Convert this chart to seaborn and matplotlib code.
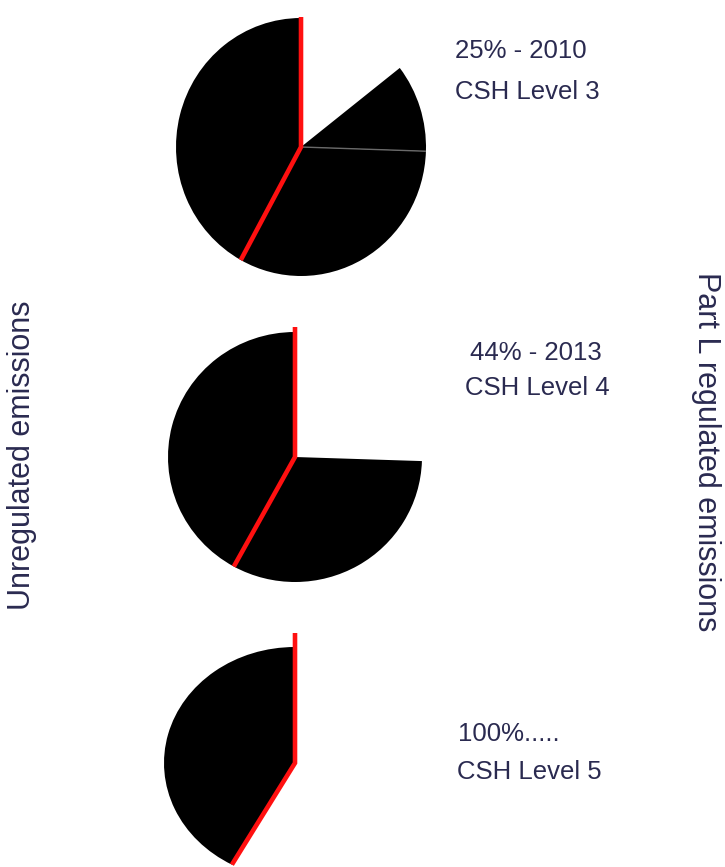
import numpy as np
import matplotlib
matplotlib.use("Agg")
import matplotlib.pyplot as plt
import seaborn as sns

# Share of a dwelling's emissions (percent of the whole pie)
unregulated_share = 42
regulated_share = 58

# Cut in Part L regulated emissions required at each step
cut_pct = [25, 44, 100]
cut_years = ["2010", "2013", None]
csh_levels = ["CSH Level 3", "CSH Level 4", "CSH Level 5"]

side_left = "Unregulated emissions"
side_right = "Part L regulated emissions"

sns.set_theme(style="white")
plt.rcParams["font.family"] = ["Liberation Sans", "DejaVu Sans"]

W, H = 725, 867
fig = plt.figure(figsize=(W / 100, H / 100), dpi=100)
fig.patch.set_facecolor("white")

text_color = "#2a2a50"
red = "#ff1010"

# pie placement in pixels: centre x, centre y, radius x, radius y
pie_boxes = [(301, 147, 125, 129), (295, 457, 127, 125), (295, 763, 131, 116)]
label_pos = [((455, 51), (455, 92)), ((470, 353), (465, 388)), ((458, 734), (457, 772))]

# regulated segments in counter-clockwise order, each tagged with the cut that removes it
cuts_desc = sorted(cut_pct, reverse=True)
bounds = cuts_desc + [0]
segments = [(bounds[k] - bounds[k + 1], bounds[k]) for k in range(len(cuts_desc))]

for i, (cut, (cx, cy, rx, ry)) in enumerate(zip(cut_pct, pie_boxes)):
    ax = fig.add_axes([(cx - rx) / W, (H - cy - ry) / H, 2 * rx / W, 2 * ry / H])
    values = [unregulated_share]
    colors = ["black"]
    removed = 0.0
    for size, removed_at in segments:
        share = regulated_share * size / 100
        if removed_at > cut:
            values.append(share)
            colors.append("black")
        else:
            removed += share
    values.append(removed)
    colors.append("none")
    wedges, _ = ax.pie(values, colors=colors, startangle=90, counterclock=True,
                       radius=1, normalize=True,
                       wedgeprops=dict(linewidth=0, edgecolor="none", antialiased=True))
    for w in wedges:
        w.set_clip_on(False)
    ax.set_aspect("auto")
    ax.set_xlim(-1, 1)
    ax.set_ylim(-1, 1)
    ax.axis("off")

    total = sum(values)
    # thin separators between visible regulated slices
    ang = 90 + 360 * values[0] / total
    for v in values[1:-2]:
        ang += 360 * v / total
        a = np.deg2rad(ang)
        ax.plot([0, np.cos(a)], [0, np.sin(a)], color="#6a6a6a", lw=1.0,
                solid_capstyle="butt", clip_on=False)

    # red boundary of the unregulated share
    a = np.deg2rad(90 + 360 * unregulated_share / total)
    top = 130 / ry
    ax.plot([0, 0, np.cos(a)], [top, 0, np.sin(a)], color=red, lw=3.3,
            solid_capstyle="butt", solid_joinstyle="miter", clip_on=False, zorder=5)

    first = f"{cut}% - {cut_years[i]}" if cut_years[i] else f"{cut}%....."
    (x1, y1), (x2, y2) = label_pos[i]
    fig.text(x1 / W, 1 - y1 / H, first, fontsize=18.5, color=text_color,
             ha="left", va="center")
    fig.text(x2 / W, 1 - y2 / H, csh_levels[i], fontsize=18.5, color=text_color,
             ha="left", va="center")

fig.text(22 / W, 1 - 455 / H, side_left, rotation=90, fontsize=22, color=text_color,
         ha="center", va="center")
fig.text(706 / W, 1 - 452 / H, side_right, rotation=-90, fontsize=22, color=text_color,
         ha="center", va="center")

fig.savefig("out.png", dpi=100, facecolor="white")
